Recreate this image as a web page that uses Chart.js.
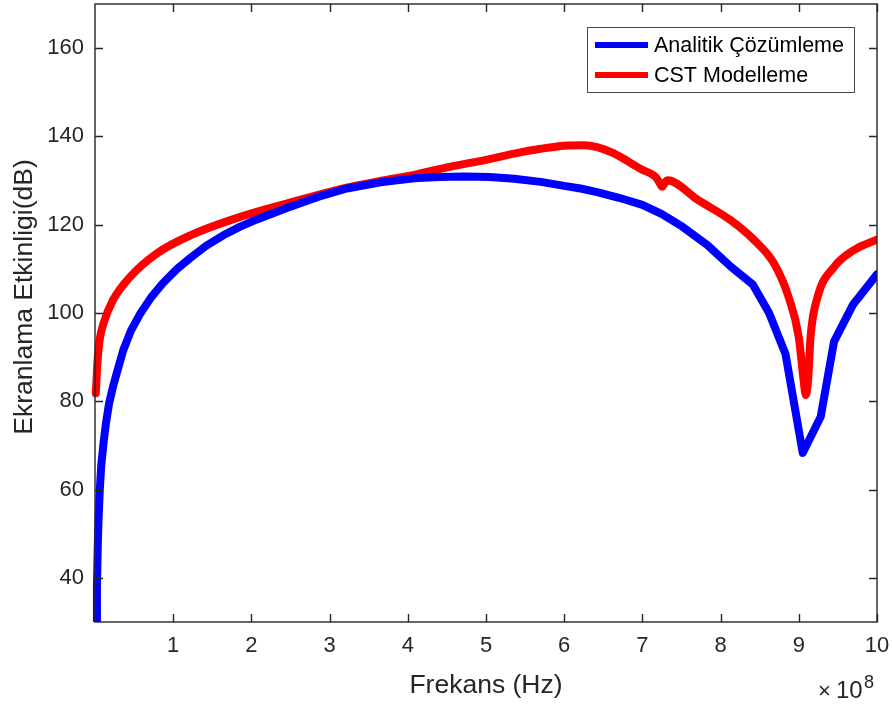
<!DOCTYPE html>
<html>
<head>
<meta charset="utf-8">
<script src="https://cdn.jsdelivr.net/npm/chart.js@4.4.1/dist/chart.umd.min.js"></script>
<style>
  html, body { margin: 0; padding: 0; background: #fff; }
  #wrap { position: relative; width: 892px; height: 704px; }
</style>
</head>
<body>
<div id="wrap"><canvas id="chart"></canvas></div>
<script>
// frequency in units of 1e8 Hz, shielding effectiveness in dB
const analitikFreq = [0.018, 0.025, 0.035, 0.045, 0.06, 0.08, 0.11, 0.14, 0.18, 0.23, 0.28, 0.36, 0.46, 0.58, 0.72, 0.87, 1.05, 1.22, 1.42, 1.64, 1.85, 2.07, 2.47, 2.85, 3.22, 3.65, 4.08, 4.4, 4.72, 5.05, 5.36, 5.7, 6.0, 6.21, 6.42, 6.7, 7.0, 7.25, 7.49, 7.83, 8.13, 8.41, 8.62, 8.83, 9.05, 9.28, 9.45, 9.69, 10.0];
const analitikSE   = [28, 38, 47, 53, 59.5, 65.5, 70.7, 75, 79.5, 83.3, 86.5, 91.5, 96, 99.9, 103.6, 106.8, 110, 112.5, 115.2, 117.6, 119.5, 121.2, 123.9, 126.3, 128.2, 129.6, 130.5, 130.8, 130.9, 130.8, 130.4, 129.7, 128.8, 128.2, 127.4, 126.1, 124.5, 122.4, 119.8, 115.4, 110.5, 106.5, 100, 90.7, 68.3, 76.5, 93.5, 101.8, 108.8];

const cstFreq = [0.01, 0.02, 0.03, 0.06, 0.11, 0.23, 0.45, 0.79, 1.22, 1.86, 2.45, 3.22, 3.65, 4.08, 4.5, 5.0, 5.36, 5.7, 6.0, 6.25, 6.42, 6.63, 6.98, 7.17, 7.22, 7.25, 7.29, 7.32, 7.71, 8.13, 8.43, 8.68, 8.87, 9.0, 9.06, 9.09, 9.12, 9.15, 9.24, 9.45, 9.71, 10.0];
const cstSE   = [81.8, 85, 88.5, 94, 97.7, 102.9, 108.2, 113.5, 117.6, 121.8, 124.8, 128.4, 129.9, 131.3, 133.0, 134.7, 136.1, 137.2, 137.9, 138.0, 137.6, 136.2, 132.6, 130.8, 129.5, 128.6, 129.6, 130.1, 125.6, 121.0, 116.5, 111.3, 103.6, 94.5, 85, 81.4, 85, 94.5, 103.6, 110.4, 114.3, 116.6];

const seriesNames = ['Analitik Çözümleme', 'CST Modelleme'];
const seriesColors = ['#0000ff', '#ff0000'];
const xTicks = [1, 2, 3, 4, 5, 6, 7, 8, 9, 10];
const yTicks = [40, 60, 80, 100, 120, 140, 160];
const xTitle = 'Frekans (Hz)';
const yTitle = 'Ekranlama Etkinligi(dB)';

const FONT = '"Liberation Sans", Arial, Helvetica, sans-serif';
const AXIS = '#262626';

function toPoints(xs, ys) {
    return xs.map((x, i) => ({ x: x, y: ys[i] }));
}

function noPadding(s) {
    s.paddingTop = 0;
    s.paddingBottom = 0;
    s.paddingLeft = 0;
    s.paddingRight = 0;
}

// MATLAB-like box with inward ticks, y label, the x10^8 exponent and the legend
const matlabDecor = {
    id: 'matlabDecor',
    afterDatasetsDraw(chart) {
        const ctx = chart.ctx;
        const a = chart.chartArea;
        const xs = chart.scales.x;
        const ys = chart.scales.y;
        const tl = 8;

        ctx.save();
        ctx.strokeStyle = AXIS;
        ctx.lineWidth = 1.4;
        ctx.strokeRect(a.left, a.top, a.right - a.left, a.bottom - a.top);
        ctx.beginPath();
        xTicks.forEach(v => {
            const px = Math.round(xs.getPixelForValue(v)) + 0.5;
            ctx.moveTo(px, a.bottom); ctx.lineTo(px, a.bottom - tl);
            ctx.moveTo(px, a.top); ctx.lineTo(px, a.top + tl);
        });
        yTicks.forEach(v => {
            const py = Math.round(ys.getPixelForValue(v)) + 0.5;
            ctx.moveTo(a.left, py); ctx.lineTo(a.left + tl, py);
            ctx.moveTo(a.right, py); ctx.lineTo(a.right - tl, py);
        });
        ctx.stroke();

        // y label
        ctx.fillStyle = AXIS;
        ctx.font = '26.5px ' + FONT;
        ctx.textAlign = 'center';
        ctx.textBaseline = 'middle';
        ctx.translate(25, 297);
        ctx.rotate(-Math.PI / 2);
        ctx.fillText(yTitle, 0, 0);
        ctx.setTransform(1, 0, 0, 1, 0, 0);

        // exponent label
        ctx.textBaseline = 'alphabetic';
        ctx.textAlign = 'left';
        ctx.font = '22px ' + FONT;
        ctx.fillText('\u00d7', 818, 698);
        ctx.font = '24px ' + FONT;
        ctx.fillText('10', 836, 698);
        ctx.font = '18px ' + FONT;
        ctx.fillText('8', 864, 688);

        // legend
        const lx = 587, ly = 27, lw = 267, lh = 65;
        ctx.fillStyle = '#fff';
        ctx.fillRect(lx, ly, lw, lh);
        ctx.strokeStyle = '#4a4a4a';
        ctx.lineWidth = 1;
        ctx.strokeRect(lx + 0.5, ly + 0.5, lw, lh);
        chart.data.datasets.forEach((ds, i) => {
            const cy = ly + 18 + i * 30;
            ctx.strokeStyle = ds.borderColor;
            ctx.lineWidth = 6;
            ctx.beginPath();
            ctx.moveTo(lx + 8, cy);
            ctx.lineTo(lx + 61, cy);
            ctx.stroke();
            ctx.fillStyle = '#000';
            ctx.font = '21.5px ' + FONT;
            ctx.textBaseline = 'middle';
            ctx.fillText(ds.label, lx + 67, cy + 1);
        });
        ctx.restore();
    }
};

const ctx = document.getElementById('chart').getContext('2d');
new Chart(ctx, {
    type: 'line',
    data: {
        datasets: [
            {
                label: seriesNames[0],
                data: toPoints(analitikFreq, analitikSE),
                borderColor: seriesColors[0],
                borderWidth: 8,
                tension: 0,
                pointRadius: 0,
                borderCapStyle: 'round',
                borderJoinStyle: 'round',
                clip: { left: 5, top: 5, right: 0, bottom: 0 }
            },
            {
                label: seriesNames[1],
                data: toPoints(cstFreq, cstSE),
                borderColor: seriesColors[1],
                borderWidth: 8,
                cubicInterpolationMode: 'monotone',
                pointRadius: 0,
                borderCapStyle: 'round',
                borderJoinStyle: 'round',
                clip: { left: 5, top: 5, right: 0, bottom: 0 }
            }
        ]
    },
    options: {
        responsive: true,
        maintainAspectRatio: false,
        animation: false,
        layout: { autoPadding: false, padding: { top: 4, right: 15, left: 0, bottom: 0 } },
        plugins: {
            legend: { display: false },
            tooltip: { enabled: false }
        },
        scales: {
            x: {
                type: 'linear',
                min: 0,
                max: 10,
                afterFit: s => { s.height = 82; noPadding(s); },
                afterBuildTicks: s => { s.ticks = xTicks.map(v => ({ value: v })); },
                grid: { display: false, drawTicks: false },
                border: { display: false },
                ticks: { color: AXIS, font: { size: 22, family: FONT }, padding: 11, maxRotation: 0 },
                title: { display: true, text: xTitle, color: AXIS, font: { size: 26.5, family: FONT }, padding: { top: 0, bottom: 2 } }
            },
            y: {
                min: 30,
                max: 170,
                afterFit: s => { s.width = 95; noPadding(s); },
                afterBuildTicks: s => { s.ticks = yTicks.map(v => ({ value: v })); },
                grid: { display: false, drawTicks: false },
                border: { display: false },
                ticks: { color: AXIS, font: { size: 22, family: FONT }, padding: 11 },
                title: { display: false }
            }
        }
    },
    plugins: [matlabDecor]
});
</script>
</body>
</html>
